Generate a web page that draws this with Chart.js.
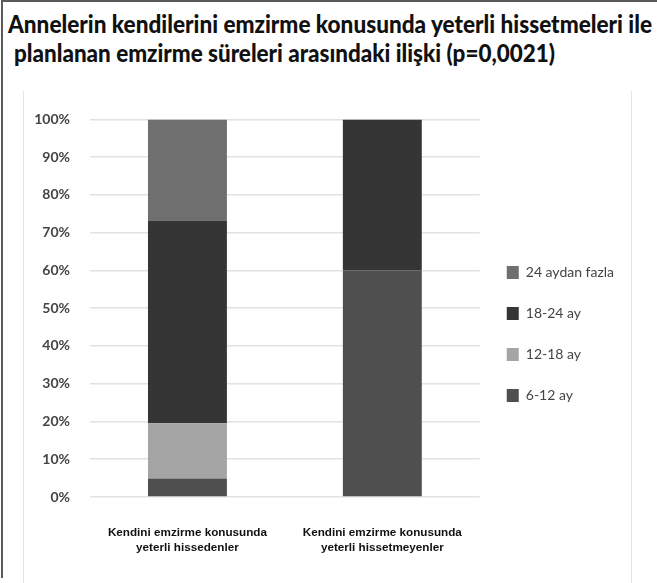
<!DOCTYPE html>
<html lang="tr">
<head>
<meta charset="utf-8">
<title>Emzirme yeterliliği ve planlanan emzirme süresi</title>
<script src="https://cdn.jsdelivr.net/npm/chart.js@4.4.1/dist/chart.umd.min.js"></script>
<style>
  html, body { margin: 0; padding: 0; background: #fff; }
  body { width: 657px; height: 583px; position: relative; overflow: hidden; }
  .frame { position: absolute; left: 1px; top: 0; width: 656px; height: 576px;
           border-left: 2px solid #5a5a5a; border-top: 2px solid #5a5a5a; }
  .title-line { position: absolute; white-space: nowrap; font-family: Lato, "Open Sans", sans-serif;
                font-weight: 900; font-size: 25px; line-height: 30px; color: #111;
                transform-origin: 0 0; }
  .inner { position: absolute; left: 23px; top: 91px; width: 607px; height: 492px;
           border-left: 1px solid #e4e4e4; border-right: 1px solid #e4e4e4; }
  #chart { display: block; }
</style>
</head>
<body>
<div class="frame"></div>
<div class="title-line" id="t1" data-left="8" data-width="644" style="top:8px">Annelerin kendilerini emzirme konusunda yeterli hissetmeleri ile</div>
<div class="title-line" id="t2" data-left="14" data-width="541" style="top:37px">planlanan emzirme süreleri arasındaki ilişki (p=0,0021)</div>
<div class="inner"><canvas id="chart" width="607" height="492"></canvas></div>
<script>
// categories (two lines each)
const groups = [
  ['Kendini emzirme konusunda', 'yeterli hissedenler'],
  ['Kendini emzirme konusunda', 'yeterli hissetmeyenler']
];

// series, bottom to top (percent)
const seriesNames = ['6-12 ay', '12-18 ay', '18-24 ay', '24 aydan fazla'];
const months6to12 = [4.9, 60];
const months12to18 = [14.6, 0];
const months18to24 = [53.7, 40];
const over24 = [26.8, 0];
const seriesColors = ['#4f4f4f', '#a5a5a5', '#353535', '#6f6f6f'];

const yTicks = [0, 10, 20, 30, 40, 50, 60, 70, 80, 90, 100];

// squeeze the title lines to the condensed width of the original
document.querySelectorAll('.title-line').forEach(el => {
  const w = el.getBoundingClientRect().width;
  const target = +el.dataset.width;
  el.style.left = el.dataset.left + 'px';
  el.style.transform = 'scaleX(' + (target / w) + ')';
});

const seriesValues = [months6to12, months12to18, months18to24, over24];

const ctx = document.getElementById('chart');
const chart = new Chart(ctx, {
  type: 'bar',
  data: {
    labels: groups,
    datasets: seriesNames.map((name, i) => ({
      label: name,
      data: seriesValues[i],
      backgroundColor: seriesColors[i],
      borderWidth: 0,
      barPercentage: 0.405,
      categoryPercentage: 1
    }))
  },
  options: {
    responsive: false,
    animation: false,
    layout: { padding: { top: 20, bottom: 26, left: 0, right: 7 } },
    scales: {
      x: {
        stacked: true,
        grid: { display: false, drawTicks: false },
        border: { display: false },
        ticks: {
          padding: 28,
          color: '#111',
          font: { family: '"Liberation Sans", Arial, sans-serif', size: 11.7, weight: 'bold', lineHeight: 1.3 }
        },
        afterFit: scale => { scale.height = 60; }
      },
      y: {
        stacked: true,
        min: 0,
        max: 100,
        afterBuildTicks: scale => { scale.ticks = yTicks.map(v => ({ value: v })); },
        grid: { color: '#e2e2e2', lineWidth: 1.5, drawTicks: false },
        border: { display: false },
        ticks: {
          padding: 20,
          color: '#444',
          font: { family: 'Lato, sans-serif', size: 14, weight: 'bold' },
          callback: v => v + '%'
        },
        afterFit: scale => { scale.width = 66; }
      }
    },
    plugins: {
      legend: {
        position: 'right',
        reverse: true,
        labels: {
          boxWidth: 12,
          boxHeight: 13,
          padding: 27,
          color: '#444',
          font: { family: 'Lato, sans-serif', size: 14 }
        }
      },
      tooltip: { enabled: false }
    }
  }
});
</script>
</body>
</html>
